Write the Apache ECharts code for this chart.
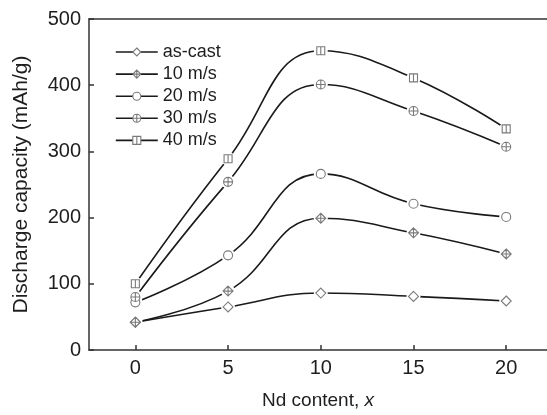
<!DOCTYPE html>
<html>
<head>
<meta charset="utf-8">
<script src="https://cdn.jsdelivr.net/npm/echarts@6/dist/echarts.min.js"></script>
<style>
  html, body { margin: 0; padding: 0; background: #fff; }
  #chart { width: 547px; height: 415px; }
</style>
</head>
<body>
<div id="chart"></div>
<script>
// Nd content (x) and discharge capacity (mAh/g) for each quenching condition
const ndContent = [0, 5, 10, 15, 20];
const seriesNames = ['as-cast', '10 m/s', '20 m/s', '30 m/s', '40 m/s'];
const asCast = [42, 65, 86, 81, 74];
const speed10 = [42, 89, 199, 177, 145];
const speed20 = [72, 143, 266, 221, 201];
const speed30 = [80, 254, 401, 361, 307];
const speed40 = [100, 289, 452, 411, 334];
const xTicks = [0, 5, 10, 15, 20];
const yTicks = [0, 100, 200, 300, 400, 500];

const allValues = [asCast, speed10, speed20, speed30, speed40];

// hollow marker shapes, some with internal cross / bar
const symbols = [
  'path://M10,0 L20,10 L10,20 L0,10 Z',
  'path://M10,0 L20,10 L10,20 L0,10 Z M10,0 L10,20 M0,10 L20,10',
  'path://M10,0 A10,10 0 1,1 10,20 A10,10 0 1,1 10,0 Z',
  'path://M10,0 A10,10 0 1,1 10,20 A10,10 0 1,1 10,0 Z M10,0 L10,20 M0,10 L20,10',
  'path://M0,0 L20,0 L20,20 L0,20 Z M10,0 L10,20'
];
const symbolSizes = [10, 10, 9, 9, 8];

const markerGray = '#7a7a7a';
const lineBlack = '#1a1a1a';
const axisColor = '#333';
const textColor = '#1e1e1e';
const fontFamily = 'Liberation Sans, Arial, sans-serif';

const pairs = vals => ndContent.map((x, i) => [x, vals[i]]);
const markerStyle = { color: '#fff', borderColor: markerGray, borderWidth: 1.1, opacity: 1 };

const series = [];
allValues.forEach((vals, k) => {
  series.push({
    name: seriesNames[k],
    type: 'line',
    smooth: 0.45,
    data: pairs(vals),
    symbol: symbols[k],
    symbolSize: symbolSizes[k],
    showSymbol: true,
    z: 2,
    lineStyle: { color: lineBlack, width: 1.6 },
    itemStyle: markerStyle,
    emphasis: { disabled: true },
    animation: false
  });
});
// white halo so lines stop short of the markers
allValues.forEach((vals) => {
  series.push({
    type: 'scatter',
    data: pairs(vals),
    symbol: 'circle',
    symbolSize: 14,
    z: 3,
    silent: true,
    itemStyle: { color: '#fff', opacity: 1 },
    animation: false
  });
});
allValues.forEach((vals, k) => {
  series.push({
    type: 'scatter',
    data: pairs(vals),
    symbol: symbols[k],
    symbolSize: symbolSizes[k],
    z: 4,
    silent: true,
    itemStyle: markerStyle,
    animation: false
  });
});

const chart = echarts.init(document.getElementById('chart'), null, { renderer: 'canvas' });
chart.setOption({
  animation: false,
  backgroundColor: '#fff',
  textStyle: { fontFamily: fontFamily },
  grid: { left: 89, right: 0, top: 19, bottom: 57 },
  legend: {
    data: seriesNames,
    orient: 'vertical',
    left: 115,
    top: 43,
    padding: 0,
    itemWidth: 42,
    itemHeight: 10,
    itemGap: 4.1,
    itemStyle: { color: '#fff', borderColor: markerGray, borderWidth: 1.1 },
    lineStyle: { color: lineBlack, width: 1.6 },
    textStyle: { fontSize: 18, color: textColor, fontFamily: fontFamily }
  },
  xAxis: [{
    type: 'value',
    position: 'bottom',
    min: -2.5,
    max: 22.2,
    name: 'Nd content, {i|x}',
    nameLocation: 'middle',
    nameGap: 41,
    nameTextStyle: {
      fontSize: 19, color: textColor,
      rich: { i: { fontSize: 19, fontStyle: 'italic', color: textColor } }
    },
    axisLine: { onZero: false, lineStyle: { color: axisColor, width: 1.5 } },
    axisTick: { inside: true, length: 5, customValues: xTicks, lineStyle: { color: axisColor, width: 1.5 } },
    axisLabel: { customValues: xTicks, fontSize: 20, color: textColor, margin: 8 },
    splitLine: { show: false }
  }, {
    // plain frame line along the top edge
    type: 'value',
    position: 'top',
    min: -2.5,
    max: 22.2,
    axisLine: { show: true, onZero: false, lineStyle: { color: axisColor, width: 1.5 } },
    axisTick: { show: false },
    axisLabel: { show: false },
    splitLine: { show: false }
  }],
  yAxis: {
    type: 'value',
    min: 0,
    max: 500,
    interval: 100,
    name: 'Discharge capacity (mAh/g)',
    nameLocation: 'middle',
    nameGap: 57,
    nameTextStyle: { fontSize: 21, color: textColor },
    axisLine: { show: true, onZero: false, lineStyle: { color: axisColor, width: 1.5 } },
    axisTick: { show: true, inside: true, length: 5, customValues: yTicks, lineStyle: { color: axisColor, width: 1.5 } },
    axisLabel: { fontSize: 20, color: textColor, margin: 8 },
    splitLine: { show: false }
  },
  series: series
});
</script>
</body>
</html>
